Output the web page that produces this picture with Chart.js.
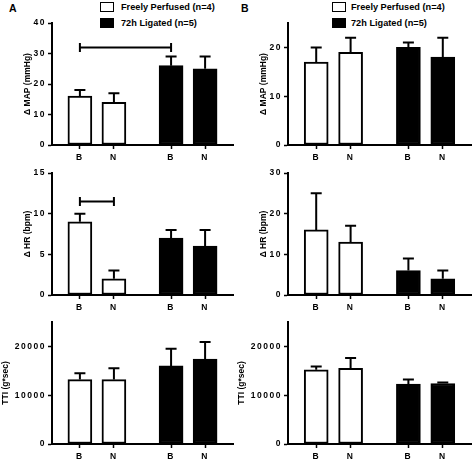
<!DOCTYPE html>
<html>
<head>
<meta charset="utf-8">
<script src="https://cdn.jsdelivr.net/npm/chart.js@4/dist/chart.umd.min.js"></script>
<style>
  body { margin: 0; background: #fff; }
  #page {
    position: relative; width: 473px; height: 462px; overflow: hidden;
    font-family: "Liberation Sans", Arial, sans-serif; font-weight: bold; color: #000;
  }
  #page canvas { position: absolute; }
  .letter { position: absolute; font-size: 10.5px; line-height: 12px; }
  .swatch { position: absolute; width: 14px; height: 10px; box-sizing: border-box; border: 1.5px solid #000; }
  .legtext { position: absolute; font-size: 9.2px; line-height: 10px; white-space: nowrap; }
</style>
</head>
<body>
<div id="page">
  <div class="letter" style="left:9px; top:2px;">A</div>
  <div class="letter" style="left:241px; top:2px;">B</div>
</div>
<script>
// ===== DATA =====
const categories = ["B", "N", "B", "N"];
const groupNames = ["Freely Perfused (n=4)", "72h Ligated (n=5)"];
const groupOfBar = [0, 0, 1, 1];

// panel A (mean, error bar up)
const mapA = [16, 14, 26, 25];
const mapAErr = [2, 3, 3, 4];
const hrA = [9, 2, 7, 6];
const hrAErr = [1, 1, 1, 2];
const ttiA = [13200, 13200, 16000, 17400];
const ttiAErr = [1300, 2300, 3500, 3500];

// panel B
const mapB = [17, 19, 20, 18];
const mapBErr = [3, 3, 1, 4];
const hrB = [16, 13, 6, 4];
const hrBErr = [9, 4, 3, 2];
const ttiB = [15200, 15500, 12300, 12400];
const ttiBErr = [700, 2100, 900, 200];

// y tick labels
const mapATicks = [0, 10, 20, 30, 40];
const hrATicks = [0, 5, 10, 15];
const mapBTicks = [0, 10, 20];
const hrBTicks = [0, 10, 20, 30];
const ttiTicks = [0, 10000, 20000];

// significance brackets: [from bar, to bar, height]
const mapABracket = [0, 2, 32];
const hrABracket = [0, 1, 11.5];

// ===== LAYOUT =====
// x position of each bar on the linear axis (gap between the two groups)
const SLOT = [0, 1, 2.68, 3.68];
const FONT = { family: "'Liberation Sans', Arial, sans-serif", size: 8.5, weight: "bold" };

const page = document.getElementById("page");

// legends (HTML)
[[100, 121], [332, 351]].forEach(([bx, tx]) => {
  groupNames.forEach((name, g) => {
    const sw = document.createElement("div");
    sw.className = "swatch";
    sw.style.left = bx + "px";
    sw.style.top = (g === 0 ? 2 : 17.5) + "px";
    sw.style.background = g === 0 ? "#fff" : "#000";
    page.appendChild(sw);
    const t = document.createElement("div");
    t.className = "legtext";
    t.textContent = name;
    t.style.left = tx + "px";
    t.style.top = (g === 0 ? 2 : 17.5) + "px";
    page.appendChild(t);
  });
});

// ===== PLUGINS =====
const errorBars = {
  id: "errorBars",
  afterDatasetsDraw(chart) {
    const { ctx } = chart;
    const y = chart.scales.y;
    ctx.save();
    ctx.strokeStyle = "#000";
    ctx.lineWidth = 2;
    chart.data.datasets.forEach((ds, di) => {
      chart.getDatasetMeta(di).data.forEach((bar, j) => {
        const top = y.getPixelForValue(ds.data[j].y + ds.errors[j]);
        ctx.beginPath();
        ctx.moveTo(bar.x, bar.y);
        ctx.lineTo(bar.x, top);
        ctx.moveTo(bar.x - 5.5, top);
        ctx.lineTo(bar.x + 5.5, top);
        ctx.stroke();
      });
    });
    ctx.restore();
  }
};

const bracket = {
  id: "bracket",
  afterDatasetsDraw(chart, args, opts) {
    if (!opts || !opts.span) return;
    const [a, b, v] = opts.span;
    const { ctx } = chart;
    const x1 = chart.scales.x.getPixelForValue(SLOT[a]);
    const x2 = chart.scales.x.getPixelForValue(SLOT[b]);
    const yy = chart.scales.y.getPixelForValue(v);
    ctx.save();
    ctx.strokeStyle = "#000";
    ctx.lineWidth = 2;
    ctx.beginPath();
    ctx.moveTo(x1, yy); ctx.lineTo(x2, yy);
    ctx.moveTo(x1, yy - 4.5); ctx.lineTo(x1, yy + 4.5);
    ctx.moveTo(x2, yy - 4.5); ctx.lineTo(x2, yy + 4.5);
    ctx.stroke();
    ctx.restore();
  }
};

// tick labels are drawn after the datasets (ticks.z = 1) with a little letter spacing
const tickSpacing = {
  id: "tickSpacing",
  afterDatasetsDraw(chart) { chart.ctx.letterSpacing = "1.5px"; },
  afterDraw(chart) { chart.ctx.letterSpacing = "0px"; }
};

// ===== PANELS =====
const panels = [
  { left: 0, top: 0, padRight: 3, title: "Δ MAP (mmHg)", max: 40, ticks: mapATicks, values: mapA, errors: mapAErr, span: mapABracket, titlePad: 23 },
  { left: 0, top: 150, padRight: 3, title: "Δ HR (bpm)", max: 15, ticks: hrATicks, values: hrA, errors: hrAErr, span: hrABracket, titlePad: 23 },
  { left: 0, top: 299, padRight: 3, title: "TTI (g*sec)", max: 25000, ticks: ttiTicks, values: ttiA, errors: ttiAErr, span: null, titlePad: 1 },
  { left: 236, top: 0, padRight: 1, title: "Δ MAP (mmHg)", max: 25, ticks: mapBTicks, values: mapB, errors: mapBErr, span: null, titlePad: 23 },
  { left: 236, top: 150, padRight: 1, title: "Δ HR (bpm)", max: 30, ticks: hrBTicks, values: hrB, errors: hrBErr, span: null, titlePad: 23 },
  { left: 236, top: 299, padRight: 1, title: "TTI (g*sec)", max: 25000, ticks: ttiTicks, values: ttiB, errors: ttiBErr, span: null, titlePad: 1 }
];

function makePanel(p) {
  const canvas = document.createElement("canvas");
  canvas.width = 236;
  canvas.height = 160;
  canvas.style.left = p.left + "px";
  canvas.style.top = p.top + "px";
  page.appendChild(canvas);

  const datasets = [0, 1].map(g => ({
    label: groupNames[g],
    data: p.values.map((v, i) => ({ x: SLOT[i], y: v })).filter((d, i) => groupOfBar[i] === g),
    errors: p.errors.filter((e, i) => groupOfBar[i] === g),
    backgroundColor: g === 0 ? "#fff" : "#000",
    borderColor: "#000",
    borderWidth: 2,
    borderSkipped: false,
    barThickness: 24,
    grouped: false
  }));

  const axisGrid = { offset: false, drawOnChartArea: false, tickLength: 4, tickColor: "#000", tickWidth: 1.5 };
  const axisBorder = { display: true, color: "#000", width: 2 };

  new Chart(canvas, {
    type: "bar",
    data: { datasets },
    options: {
      responsive: false,
      animation: false,
      devicePixelRatio: 1,
      layout: { padding: { top: 23, right: p.padRight, left: 0, bottom: 0 } },
      plugins: {
        legend: { display: false },
        tooltip: { enabled: false },
        bracket: p.span ? { span: p.span } : false
      },
      scales: {
        x: {
          type: "linear",
          offset: false,
          bounds: "data",
          min: -0.82,
          max: 4.5,
          afterBuildTicks: s => { s.ticks = SLOT.map(v => ({ value: v })); },
          afterFit: s => { s.height = 15; },
          ticks: { z: 1, callback: (v, i) => categories[i], font: FONT, color: "#000", padding: 4, maxRotation: 0, autoSkip: false },
          grid: axisGrid,
          border: axisBorder
        },
        y: {
          min: 0,
          max: p.max,
          afterBuildTicks: s => { s.ticks = p.ticks.map(v => ({ value: v })); },
          afterFit: s => { s.width = 52; },
          ticks: { z: 1, callback: v => String(v), font: FONT, color: "#000", padding: 2, autoSkip: false },
          title: { display: true, text: p.title, font: FONT, color: "#000", padding: { top: p.titlePad, bottom: 0 } },
          grid: axisGrid,
          border: axisBorder
        }
      }
    },
    plugins: [errorBars, bracket, tickSpacing]
  });
}

panels.forEach(makePanel);
</script>
</body>
</html>
